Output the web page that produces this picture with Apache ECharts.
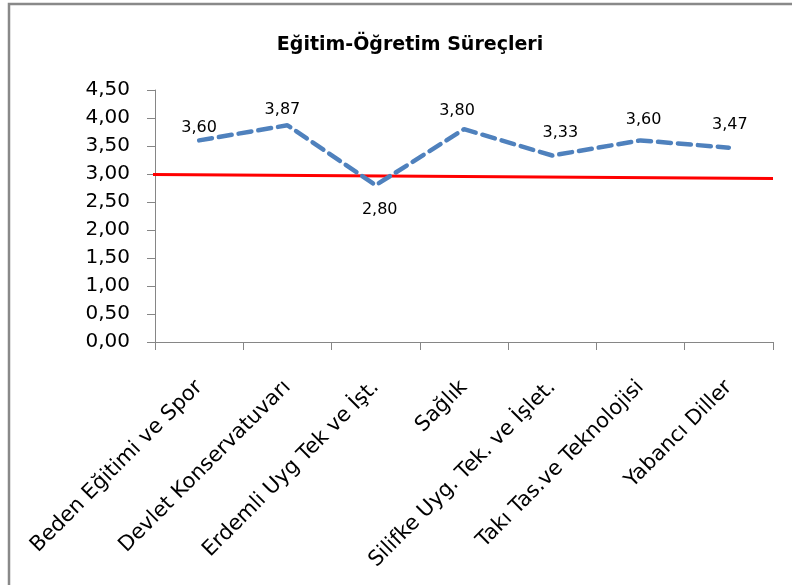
<!DOCTYPE html>
<html>
<head>
<meta charset="utf-8">
<script src="https://cdn.jsdelivr.net/npm/echarts@6/dist/echarts.min.js"></script>
<style>
html,body{margin:0;padding:0;background:#fff;}
#c{width:792px;height:585px;}
</style>
</head>
<body>
<div id="c"></div>
<script>
const titleText = 'Eğitim-Öğretim Süreçleri';
const categories = ['Beden Eğitimi ve Spor', 'Devlet Konservatuvarı', 'Erdemli Uyg Tek ve İşt.', 'Sağlık', 'Silifke Uyg. Tek. ve İşlet.', 'Takı Tas.ve Teknolojisi', 'Yabancı Diller'];
const scores = [3.60, 3.87, 2.80, 3.80, 3.33, 3.60, 3.47];
const refLineX = [-0.012, 1];
const refLineY = [2.99, 2.92];
const yTicks = [0, 0.5, 1, 1.5, 2, 2.5, 3, 3.5, 4, 4.5];

// label placement per point (style only)
const labelPos = ['top','top','bottom','top','top','top','top'];
const labelOff = [[0,4],[-5,1],[4,8],[-7,-2],[8,-6],[3,-4],[1,-6]];

const fmt = v => v.toFixed(2).replace('.', ',');

const chart = echarts.init(document.getElementById('c'));
chart.setOption({
  animation: false,
  backgroundColor: '#fff',
  title: {
    text: titleText, left: 405, top: 31, textAlign: 'center',
    textStyle: {fontFamily: 'DejaVu Sans', fontWeight: 'bold', fontSize: 19, color: '#000'}
  },
  graphic: [{
    type: 'rect', shape: {x: 9, y: 4, width: 900, height: 700},
    style: {fill: null, stroke: '#898989', lineWidth: 2.5}, silent: true, z: 100
  }],
  grid: {left: 155, right: 19, top: 90, bottom: 243},
  xAxis: [{
    type: 'category', data: categories, boundaryGap: true,
    axisLine: {lineStyle: {color: '#868686', width: 1}},
    axisTick: {show: true, length: 8, alignWithLabel: false, lineStyle: {color: '#868686'}},
    axisLabel: {rotate: 45, interval: 0, margin: 42, fontFamily: 'DejaVu Sans', fontSize: 21, color: '#000'},
    splitLine: {show: false}
  }, {
    type: 'value', min: 0, max: 1, show: false
  }],
  yAxis: {
    type: 'value', min: 0, max: 4.5, interval: 0.5,
    axisLine: {show: true, lineStyle: {color: '#868686', width: 1}},
    axisTick: {show: true, length: 8, lineStyle: {color: '#868686'}},
    axisLabel: {margin: 25, fontFamily: 'DejaVu Sans', fontSize: 20, color: '#000', formatter: v => fmt(v)},
    splitLine: {show: false}
  },
  series: [{
    type: 'line', xAxisIndex: 1, clip: false, silent: true, symbol: 'none',
    data: refLineX.map((x, i) => [x, refLineY[i]]),
    lineStyle: {color: '#ff0000', width: 3}, z: 2
  }, {
    type: 'line', xAxisIndex: 0,
    data: scores.map((v, i) => ({
      value: v,
      label: {position: labelPos[i], offset: labelOff[i]}
    })),
    symbol: 'circle', symbolSize: 1, showSymbol: true,
    itemStyle: {color: 'rgba(0,0,0,0)', borderWidth: 0},
    lineStyle: {color: '#4f81bd', width: 4.5, type: [13, 7], cap: 'round'},
    label: {show: true, formatter: p => fmt(p.value), fontFamily: 'DejaVu Sans', fontSize: 16, color: '#000', distance: 8},
    z: 3
  }]
});
</script>
</body>
</html>
